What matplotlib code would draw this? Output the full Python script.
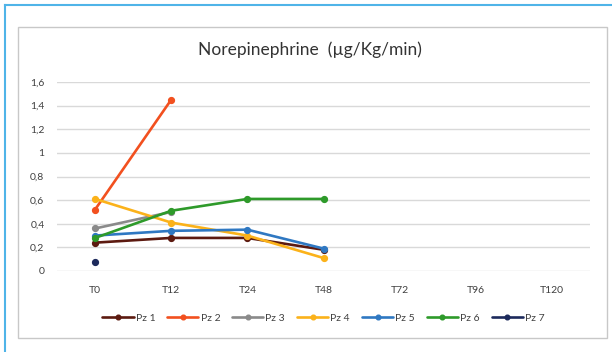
import matplotlib
matplotlib.use("Agg")
import matplotlib.pyplot as plt
from matplotlib.lines import Line2D
from matplotlib.patches import Rectangle
from matplotlib.ticker import FuncFormatter
import numpy as np

plt.rcParams['font.family'] = ['Lato', 'DejaVu Sans']

categories = ["T0", "T12", "T24", "T48", "T72", "T96", "T120"]
pz1 = [0.24, 0.28, 0.28, 0.18]
pz2 = [0.52, 1.45]
pz3 = [0.36, 0.50]
pz4 = [0.61, 0.41, 0.30, 0.11]
pz5 = [0.30, 0.34, 0.35, 0.19]
pz6 = [0.28, 0.51, 0.61, 0.61]
pz7 = [0.08]
series_names = ["Pz 1", "Pz 2", "Pz 3", "Pz 4", "Pz 5", "Pz 6", "Pz 7"]
series_values = [pz1, pz2, pz3, pz4, pz5, pz6, pz7]
colors = ["#5c1a10", "#f2501f", "#8a8a8a", "#fbb21a", "#2f78c2", "#2e9a2a", "#1d2a5c"]
yticks = [0, 0.2, 0.4, 0.6, 0.8, 1.0, 1.2, 1.4, 1.6]

W, H = 612, 352
fig = plt.figure(figsize=(W / 100, H / 100), dpi=100)
fig.patch.set_facecolor("white")

# outer blue frame
fig.add_artist(Line2D([5 / W, 1], [1 - 5 / H, 1 - 5 / H], color="#4fb4e8", lw=1.5))
fig.add_artist(Line2D([5 / W, 5 / W], [0, 1 - 5 / H], color="#4fb4e8", lw=1.5))
# inner chart box
fig.add_artist(Rectangle((18 / W, 1 - 338 / H), (607 - 18) / W, (338 - 27) / H,
                         transform=fig.transFigure, facecolor="white",
                         edgecolor="#c8c8c8", lw=1.0, zorder=0))

ax = fig.add_axes([57 / W, 1 - 271 / H, (590 - 57) / W, (271 - 82) / H])
ax.set_facecolor("none")
x = np.arange(len(categories))
for name, vals, c in zip(series_names, series_values, colors):
    ax.plot(x[:len(vals)], vals, color=c, lw=1.9, marker="o", markersize=4.2,
            label=name, solid_capstyle="round")

ax.set_xlim(-0.5, len(categories) - 0.5)
ax.set_ylim(0, 1.6)
ax.set_yticks(yticks)
ax.yaxis.set_major_formatter(FuncFormatter(lambda v, p: ("%g" % round(v, 1)).replace(".", ",")))
ax.set_xticks(x)
ax.set_xticklabels(categories)
ax.grid(axis="y", color="#d9d9d9", lw=1)
ax.set_axisbelow(True)
for s in ax.spines.values():
    s.set_visible(False)
ax.tick_params(axis="both", length=0, labelsize=7.5, colors="#404040")
ax.tick_params(axis="y", pad=9)
ax.tick_params(axis="x", pad=11)

fig.text(310 / W, 1 - 50 / H, "Norepinephrine  (µg/Kg/min)", ha="center", va="center",
         fontsize=12.5, color="#333333")

leg = ax.legend(loc="center", bbox_to_anchor=(0.5, -0.25), ncol=7, frameon=False,
                fontsize=7.5, handlelength=3.0, columnspacing=1.15, handletextpad=0.2,
                markerscale=0.8)
for t in leg.get_texts():
    t.set_color("#404040")

fig.savefig("out.png", dpi=100, facecolor="white")
